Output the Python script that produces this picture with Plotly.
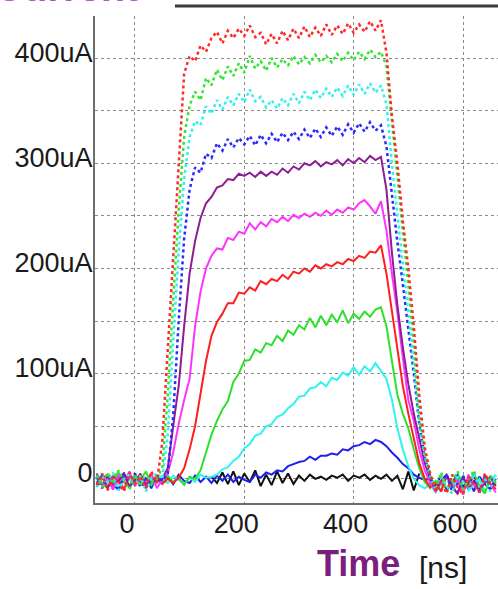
import plotly.graph_objects as go

# Sample times [ns], 10 ns spacing
T = list(range(-70, 661, 10))

# Current waveforms [uA], one list per bias level (highest first)
wf1 = [-6, 5, -11, 3, -3, -12, 6, -5, 2, -9, 7, -4,
       35, 125, 215, 305, 385, 402, 397, 412, 406, 419,
       425, 414, 426, 419, 428, 421, 431, 420, 424, 413,
       423, 414, 426, 417, 428, 419, 430, 420, 429, 421,
       432, 422, 431, 423, 433, 424, 432, 425, 435, 426,
       436, 405, 345, 300, 245, 200, 145, 80, 30, 5,
       -12, -2, -14, 4, -8, -15, 2, -6, -13, 5, -5, -10]
wf2 = [3, -8, 6, -5, 8, -2, -10, 4, -7, 6, -3, 1,
       10, 80, 170, 255, 325, 355, 368, 360, 381, 374,
       389, 379, 392, 383, 395, 386, 402, 390, 397, 388,
       400, 391, 399, 393, 402, 394, 401, 395, 403, 396,
       402, 396, 404, 397, 405, 398, 406, 399, 408, 401,
       406, 392, 340, 285, 235, 185, 130, 60, 25, 4,
       -9, 6, -12, -3, 7, -10, -1, 8, -7, -13, 3, -4]
wf3 = [-8, 2, -3, 6, -11, 0, 4, -6, 3, -12, 0, 5,
       0, 40, 130, 215, 285, 325, 340, 336, 354, 347,
       360, 351, 363, 355, 366, 358, 370, 359, 363, 353,
       360, 352, 362, 355, 366, 357, 368, 360, 370, 362,
       371, 363, 372, 364, 374, 365, 375, 366, 376, 367,
       374, 356, 300, 250, 203, 158, 110, 55, 22, 2,
       -11, 2, -7, -14, 4, -3, -11, 5, -8, 0, -12, 3]
wf4 = [2, -9, 4, -4, -11, 3, -2, 5, -8, 0, -5, 3,
       -2, 5, 60, 150, 228, 275, 296, 291, 309, 305,
       319, 312, 323, 315, 324, 318, 326, 317, 327, 319,
       328, 320, 329, 322, 330, 323, 332, 324, 333, 325,
       334, 326, 335, 327, 337, 329, 338, 330, 339, 331,
       336, 316, 270, 225, 185, 145, 100, 52, 20, 2,
       -10, -2, 4, -12, -5, 3, -9, -1, -13, 2, -7, -4]
wf5 = [-4, 3, -9, 2, -3, 6, -8, -1, 4, -6, 0, -3,
       0, 10, 50, 88, 145, 195, 226, 248, 262, 268,
       277, 279, 285, 284, 290, 288, 291, 287, 292, 288,
       292, 289, 295, 291, 297, 294, 300, 298, 302, 297,
       301, 299, 303, 298, 304, 300, 305, 301, 307, 303,
       306, 275, 215, 165, 125, 90, 62, 38, 15, 0,
       -11, -2, 4, -8, -14, 0, -5, 3, -10, -4, 2, -7]
wf6 = [3, -6, 0, -10, 4, -3, 7, -7, 1, -4, 5, -9,
       -1, 5, 25, 52, 75, 95, 145, 178, 200, 212,
       219, 218, 229, 227, 235, 233, 243, 237, 244, 240,
       247, 244, 249, 245, 251, 248, 252, 249, 253, 250,
       255, 251, 256, 253, 258, 256, 262, 265, 259, 252,
       264, 236, 195, 158, 115, 75, 55, 28, 8, -4,
       -12, -3, 3, -9, -1, -15, 4, -6, -11, 0, -5, -13]
wf7 = [-7, 0, 4, -6, -1, -10, 3, -4, 5, -9, -2, 2,
       -5, 0, -4, 1, 10, 28, 50, 80, 112, 136,
       149, 157, 167, 167, 177, 176, 182, 179, 188, 185,
       190, 188, 194, 190, 197, 195, 200, 197, 203, 200,
       204, 202, 206, 204, 209, 207, 212, 210, 216, 215,
       222, 195, 160, 125, 88, 62, 40, 15, 0, -8,
       -4, -12, 3, -7, -14, 2, -9, -2, -13, 4, -5, -10]
wf8 = [4, -4, -9, 2, 6, -3, -8, 3, -1, 7, -6, 0,
       -4, 3, -3, 1, -6, 2, 0, 8, 25, 42,
       55, 66, 74, 92, 100, 112, 113, 123, 120, 129,
       127, 136, 131, 141, 137, 146, 142, 153, 144, 155,
       146, 156, 149, 160, 148, 157, 152, 159, 154, 161,
       163, 145, 112, 80, 62, 48, 28, 10, -3, -9,
       -2, -12, 4, -7, 0, -11, -4, 5, -8, -14, 2, -5]
wf9 = [-3, 5, -7, 0, -11, 4, -1, -6, 3, -9, 1, -4,
       0, -4, 3, -1, -5, 1, -3, 4, 1, 2,
       4, 9, 11, 17, 21, 29, 33, 41, 43, 50,
       52, 59, 61, 67, 71, 78, 79, 86, 87, 92,
       88, 96, 94, 101, 98, 106, 99, 107, 102, 110,
       103, 95, 75, 48, 28, 12, 0, -6, -9, -5,
       -13, -5, 1, -10, -4, 3, -11, -6, 0, -12, -3, 4]
wf10 = [5, -6, 1, -10, 3, -3, -7, 4, -4, 0, -9, 3,
        -3, 2, -5, 4, -2, -4, 3, -3, 2, -4,
        3, -2, 4, -3, 2, -1, -3, 4, 1, 6,
        4, 8, 7, 12, 14, 16, 17, 21, 18, 22,
        22, 24, 23, 28, 27, 31, 32, 35, 33, 37,
        35, 31, 25, 20, 14, 10, 4, 1, -1, 0,
        -7, 3, -11, -4, 4, -8, -1, -12, 2, -5, -10, 0]
# reference (no signal) trace, recorded 140..520 ns only
wf11 = [None] * 21 + [
        2, -4, 6, -5, 7, -6, 5, -3, 8, -7,
        4, -6, 7, -4, 5, -5, 3, -2, 4, 0,
        2, -1, 3, 1, 4, -2, 3, 1, 4, -1,
        3, 0, 4, -2, 3, -10, 7, -11, 5] + [None] * 14

# drawing order: lowest level first, top traces last
series = [wf11, wf10, wf9, wf8, wf7, wf6, wf5, wf4, wf3, wf2, wf1]
colors = ["#111111", "#1f1fee", "#2ff2f2", "#2ee02e", "#ff1f1f", "#ff33ff",
          "#8e1c94", "#2a2aff", "#33f0f0", "#33e633", "#ff2a2a"]
dashes = ["solid"] * 7 + ["dot"] * 4
widths = [2] * 7 + [2.5] * 4

FONT = "Liberation Sans, Arial, sans-serif"

fig = go.Figure()
for y, c, d, w in zip(series, colors, dashes, widths):
    fig.add_trace(go.Scatter(x=T, y=y, mode="lines",
                             line=dict(color=c, width=w, dash=d),
                             connectgaps=False, hoverinfo="skip"))

grid = dict(showgrid=True, gridcolor="#8a8a8a", griddash="dot", gridwidth=1,
            showline=True, linecolor="#6e6e6e", linewidth=2, zeroline=False,
            ticks="", mirror=False)

fig.update_xaxes(range=[-73, 664], tickvals=[0, 200, 400, 600],
                 tickfont=dict(family=FONT, size=27, color="#1a1a1a"),
                 ticklabelshift=-8, ticklabelstandoff=-4, **grid)
fig.update_yaxes(range=[-23, 440],
                 tickvals=[0, 50, 100, 150, 200, 250, 300, 350, 400],
                 ticktext=["0", "", "100uA", "", "200uA", "", "300uA", "", "400uA"],
                 tickfont=dict(family=FONT, size=27, color="#1a1a1a"),
                 ticklabelshift=-6, ticklabelstandoff=-5, **grid)

fig.update_layout(
    width=498, height=589,
    margin=dict(l=95, r=0, t=16, b=86),
    plot_bgcolor="white", paper_bgcolor="white",
    showlegend=False,
    font=dict(family=FONT),
    shapes=[dict(type="line", xref="paper", yref="paper",
                 x0=0.1985, x1=1.0, y0=1.0205, y1=1.0205,
                 line=dict(color="#3a3a3a", width=3))],
    annotations=[
        dict(text="<b>Current</b>", xref="paper", yref="paper",
             x=-0.256, y=1.011, xanchor="left", yanchor="bottom",
             showarrow=False, font=dict(family=FONT, size=40, color="#b452c8")),
        dict(text="<b>Time</b>", xref="paper", yref="paper",
             x=0.546, y=-0.170, xanchor="left", yanchor="bottom",
             showarrow=False, font=dict(family=FONT, size=36, color="#7b1f7c")),
        dict(text="[ns]", xref="paper", yref="paper",
             x=0.799, y=-0.170, xanchor="left", yanchor="bottom",
             showarrow=False, font=dict(family=FONT, size=30, color="#1a1a1a")),
    ],
)

fig.write_html("out.html")
